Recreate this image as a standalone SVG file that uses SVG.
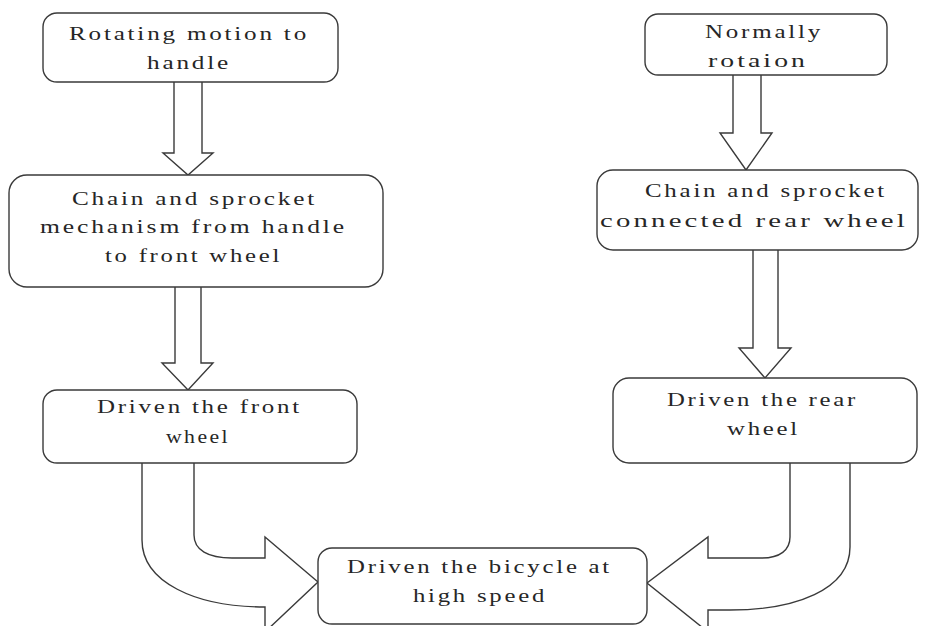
<svg xmlns="http://www.w3.org/2000/svg" width="926" height="626" viewBox="0 0 926 626">
<style>
.box{fill:#fff;stroke:#3a3a3a;stroke-width:1.4}
.arr{fill:#fff;stroke:#3a3a3a;stroke-width:1.4;stroke-linejoin:miter}
text{font-family:"Liberation Serif","Times New Roman",serif;font-size:18px;fill:#262626;letter-spacing:2px}
</style>
<rect width="926" height="626" fill="#fff"/>
<g id="connectors">
<path class="arr" d="M174,82 V153 H163 L188,175 L213,153 H202 V82"/>
<path class="arr" d="M175,287 V363 H162 L188,390 L213,363 H201 V287"/>
<path class="arr" d="M733,75 V133 H720 L746,170 L772,133 H761 V75"/>
<path class="arr" d="M753,250 V348 H739 L765,378 L791,348 H778 V250"/>
<path class="arr" d="M142,463 V540 C142,582 195,607 265,607 V632 L318,582 L265,537 V558 H232 C208,558 194,550 194,535 V463"/>
<path class="arr" d="M850,463 V547 C850,590 795,610 730,610 H708 V632 L647,583 L708,537 V558 H762 C780,558 790,550 790,537 V463"/>
</g>
<g id="n1">
<rect class="box" x="43" y="13" width="295" height="69" rx="14"/>
<text x="69" y="40" textLength="240" lengthAdjust="spacingAndGlyphs">Rotating motion to</text>
<text x="147" y="69" textLength="84" lengthAdjust="spacingAndGlyphs">handle</text>
</g>
<g id="n2">
<rect class="box" x="9" y="175" width="374" height="112" rx="18"/>
<text x="72" y="205" textLength="245" lengthAdjust="spacingAndGlyphs">Chain and sprocket</text>
<text x="40" y="233" textLength="307" lengthAdjust="spacingAndGlyphs">mechanism from handle</text>
<text x="105" y="262" textLength="177" lengthAdjust="spacingAndGlyphs">to front wheel</text>
</g>
<g id="n3">
<rect class="box" x="43" y="390" width="314" height="73" rx="14"/>
<text x="97" y="413" textLength="205" lengthAdjust="spacingAndGlyphs">Driven the front</text>
<text x="166" y="443" textLength="64" lengthAdjust="spacingAndGlyphs">wheel</text>
</g>
<g id="n4">
<rect class="box" x="645" y="14" width="242" height="61" rx="13"/>
<text x="705" y="38" textLength="118" lengthAdjust="spacingAndGlyphs">Normally</text>
<text x="708" y="67" textLength="100" lengthAdjust="spacingAndGlyphs">rotaion</text>
</g>
<g id="n5">
<rect class="box" x="597" y="170" width="321" height="80" rx="16"/>
<text x="645" y="197" textLength="242" lengthAdjust="spacingAndGlyphs">Chain and sprocket</text>
<text x="600" y="227" textLength="308" lengthAdjust="spacingAndGlyphs">connected rear wheel</text>
</g>
<g id="n6">
<rect class="box" x="613" y="378" width="304" height="85" rx="16"/>
<text x="667" y="406" textLength="191" lengthAdjust="spacingAndGlyphs">Driven the rear</text>
<text x="727" y="435" textLength="73" lengthAdjust="spacingAndGlyphs">wheel</text>
</g>
<g id="n7">
<rect class="box" x="318" y="548" width="329" height="76" rx="14"/>
<text x="347" y="573" textLength="265" lengthAdjust="spacingAndGlyphs">Driven the bicycle at</text>
<text x="413" y="602" textLength="134" lengthAdjust="spacingAndGlyphs">high speed</text>
</g>
</svg>
